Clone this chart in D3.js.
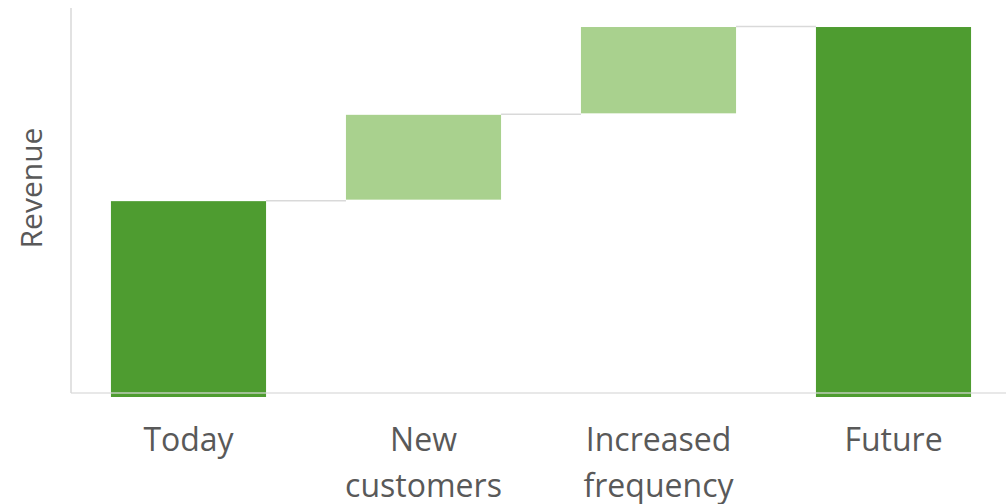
<!DOCTYPE html>
<html>
<head>
<meta charset="utf-8">
<script src="https://cdn.jsdelivr.net/npm/d3@7"></script>
<style>
  body { margin: 0; background: #fff; }
  svg { display: block; font-family: "Open Sans", "Noto Sans", sans-serif; }
</style>
</head>
<body>
<svg id="chart" width="1006" height="504"></svg>
<script>
// waterfall data
var categories = ['Today', 'New customers', 'Increased frequency', 'Future']
var labelLines = [['Today'], ['New', 'customers'], ['Increased', 'frequency'], ['Future']]
var values = [53, 23.3, 23.7, 100]
var isTotal = [true, false, false, true]

var darkGreen = '#4e9c30'
var lightGreen = '#a9d18e'
var lineGrey = '#d9d9d9'

var svg = d3.select('#chart')

var x = d3.scaleBand().domain(categories).range([71, 1011]).paddingInner(0.34).paddingOuter(0.17)
var y = d3.scaleLinear().domain([0, 105]).range([397, 8])

// build running base / top for each step
var steps = []
var run = 0
for (var i = 0; i < categories.length; i++) {
	var s = {}
	s.cat = categories[i]
	if (isTotal[i]) {
		s.base = 0
		s.top = values[i]
		run = values[i]
	} else {
		s.base = run
		s.top = run + values[i]
		run = s.top
	}
	s.total = isTotal[i]
	steps.push(s)
}

// connectors between bars
for (var i = 0; i < steps.length - 1; i++) {
	var lvl = steps[i].top
	svg.append('line')
		.attr('x1', x(steps[i].cat) + x.bandwidth())
		.attr('x2', x(steps[i + 1].cat))
		.attr('y1', y(lvl))
		.attr('y2', y(lvl))
		.attr('stroke', lineGrey)
		.attr('stroke-width', 1.5)
}

svg.selectAll('rect.bar').data(steps).enter().append('rect')
	.attr('class', 'bar')
	.attr('x', function(d) { return x(d.cat) })
	.attr('width', x.bandwidth())
	.attr('y', function(d) { return y(d.top) + 0.5 })
	.attr('height', function(d) {
		var h = y(d.base) - y(d.top) - 0.5
		if (!d.total) h = h - 1
		return h
	})
	.attr('fill', function(d) { return d.total ? darkGreen : lightGreen })

// axes lines
svg.append('line')
	.attr('x1', 71).attr('x2', 71)
	.attr('y1', y(105)).attr('y2', 393)
	.attr('stroke', lineGrey).attr('stroke-width', 1.5)
svg.append('line')
	.attr('x1', 71).attr('x2', 1006)
	.attr('y1', 393).attr('y2', 393)
	.attr('stroke', lineGrey).attr('stroke-width', 1.5)
	.attr('stroke-opacity', 0.8)

// category labels
var labels = svg.selectAll('text.cat').data(categories).enter().append('text')
	.attr('class', 'cat')
	.attr('text-anchor', 'middle')
	.attr('font-size', 32)
	.attr('fill', '#595959')
	.attr('transform', function(d) { return 'translate(' + (x(d) + x.bandwidth() / 2) + ',451)' })
labels.each(function(d, i) {
	var t = d3.select(this)
	labelLines[i].forEach(function(line, j) {
		t.append('tspan').attr('x', 0).attr('y', j * 46).text(line)
	})
})

// y axis title
svg.append('text')
	.attr('transform', 'translate(42,188) rotate(-90)')
	.attr('text-anchor', 'middle')
	.attr('font-size', 30)
	.attr('fill', '#595959')
	.text('Revenue')
</script>
</body>
</html>
